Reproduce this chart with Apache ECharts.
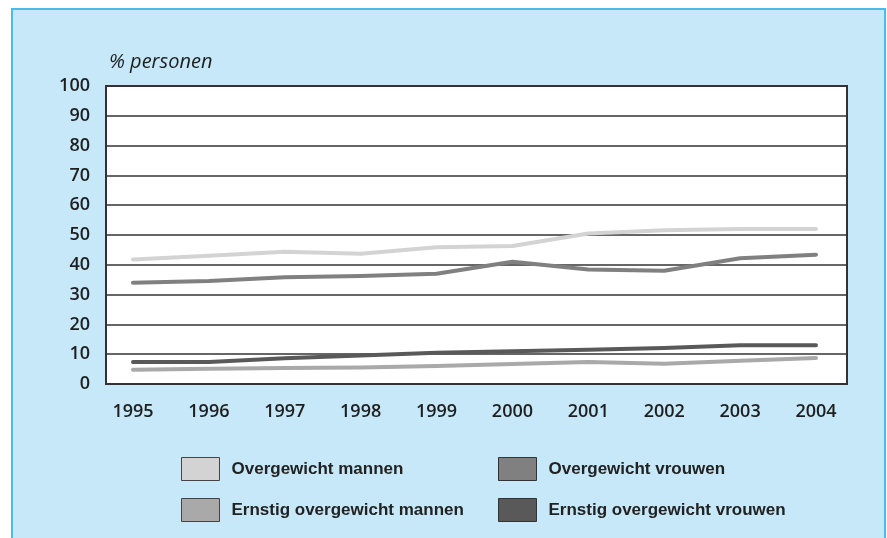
<!DOCTYPE html>
<html><head><meta charset="utf-8">
<script src="https://cdn.jsdelivr.net/npm/echarts@6/dist/echarts.min.js"></script>
<style>html,body{margin:0;padding:0;background:#fff}#c{width:887px;height:538px}</style>
</head><body><div id="c"></div>
<script>
const years = ['1995','1996','1997','1998','1999','2000','2001','2002','2003','2004'];
const yTicks = [0,10,20,30,40,50,60,70,80,90,100];
const overMannen = [41.8, 43.0, 44.4, 43.7, 45.9, 46.3, 50.5, 51.6, 52.0, 52.0];
const overVrouwen = [34.0, 34.6, 35.8, 36.2, 37.0, 41.0, 38.4, 38.0, 42.2, 43.4];
const ernstMannen = [4.8, 5.1, 5.4, 5.5, 6.0, 6.7, 7.4, 6.8, 7.8, 8.7];
const ernstVrouwen = [7.4, 7.4, 8.6, 9.6, 10.5, 11.0, 11.5, 12.1, 13.0, 13.0];
const names = ['Overgewicht mannen','Overgewicht vrouwen','Ernstig overgewicht mannen','Ernstig overgewicht vrouwen'];
const colors = ['#d3d3d3','#808080','#a9a9a9','#595959'];
const seriesData = [overMannen, overVrouwen, ernstMannen, ernstVrouwen];

const chart = echarts.init(document.getElementById('c'), null, {renderer:'canvas'});
const axisFont = {fontFamily:'Open Sans', fontSize:18, fontWeight:600, color:'#1e1e1e'};
const legendText = {fontFamily:'Liberation Sans Narrow, sans-serif', fontSize:17, fontWeight:'bold', color:'#222', padding:[0,0,0,7]};
chart.setOption({
  animation:false,
  backgroundColor:'#fff',
  graphic:[{type:'rect', z:-10, shape:{x:12, y:9, width:873, height:532},
    style:{fill:'#c6e8f9', stroke:'#4dbbe9', lineWidth:2}}],
  title:{text:'% personen', left:109, top:52, padding:0,
    textStyle:{fontFamily:'Open Sans', fontStyle:'italic', fontWeight:500, fontSize:20, color:'#1e1e1e'}},
  grid:[
    {left:106, right:40, top:86, bottom:154, show:true, backgroundColor:'#fff', borderColor:'#333', borderWidth:2, containLabel:false},
    {left:133, right:71, top:86, bottom:154, containLabel:false}
  ],
  xAxis:[
    {gridIndex:0, type:'category', data:years, show:false},
    {gridIndex:1, type:'category', data:years, boundaryGap:false,
      axisLine:{show:false}, axisTick:{show:false}, splitLine:{show:false},
      axisLabel:Object.assign({margin:19, interval:0}, axisFont)}
  ],
  yAxis:[
    {gridIndex:0, type:'value', min:0, max:100, interval:10,
      axisLine:{show:false}, axisTick:{show:false},
      splitLine:{show:true, lineStyle:{color:'#333', width:1.5}},
      axisLabel:Object.assign({margin:16}, axisFont)},
    {gridIndex:1, type:'value', min:0, max:100, interval:10, show:false}
  ],
  legend:[
    {left:181, top:457, padding:0, orient:'vertical', itemGap:17, itemWidth:38, itemHeight:23, icon:'rect',
      itemStyle:{borderColor:'#444', borderWidth:1}, textStyle:legendText,
      data:[names[0], names[2]]},
    {left:498, top:457, padding:0, orient:'vertical', itemGap:17, itemWidth:38, itemHeight:23, icon:'rect',
      itemStyle:{borderColor:'#333', borderWidth:1}, textStyle:legendText,
      data:[names[1], names[3]]}
  ],
  series: names.map((n,i)=>({
    name:n, type:'line', xAxisIndex:1, yAxisIndex:1, data:seriesData[i],
    symbol:'none', color:colors[i],
    lineStyle:{color:colors[i], width:4, cap:'round', join:'round'},
    itemStyle:{color:colors[i]}
  }))
});
</script></body></html>
